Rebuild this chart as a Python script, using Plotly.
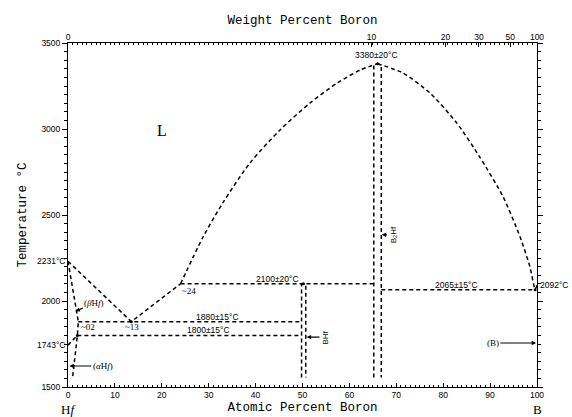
import plotly.graph_objects as go

# ---- data (atomic % B, temperature °C) ----
liq_hf_x = [0, 13.5, 24.0]
liq_hf_t = [2231, 1880, 2100]
liq_mid_x = [24.0, 28.8, 33.0, 38.8, 45.2, 51.6, 57.4, 62.3, 66.0]
liq_mid_t = [2100, 2372, 2570, 2802, 2994, 3151, 3267, 3343, 3380]
liq_b_x = [66.0, 71.4, 77.2, 82.9, 87.8, 92.8, 96.4, 98.5, 99.6, 100.0]
liq_b_t = [3380, 3326, 3209, 3035, 2837, 2605, 2372, 2198, 2068, 2092]

solidus_hf_x = [0, 2.2, 2.0, 1.0]
solidus_hf_t = [2231, 1880, 1800, 1560]
transus_hf_x = [0, 2.0]
transus_hf_t = [1743, 1800]

bhf_x = [49.8, 49.8, 50.2, 50.7, 50.7]
bhf_t = [1555, 2095, 2100, 2090, 1555]
b2hf_x = [65.2, 65.2, 66.0, 66.8, 66.8]
b2hf_t = [1555, 3370, 3380, 3370, 1555]

iso_2100_x = [24.0, 65.2]; iso_2100_t = [2100, 2100]
iso_1880_x = [2.2, 49.8]; iso_1880_t = [1880, 1880]
iso_1800_x = [2.0, 49.8]; iso_1800_t = [1800, 1800]
iso_2065_x = [66.8, 99.6]; iso_2065_t = [2065, 2065]

y_ticks = [1500, 2000, 2500, 3000, 3500]
x_ticks = [0, 10, 20, 30, 40, 50, 60, 70, 80, 90, 100]
wt_ticks = [0, 10, 20, 30, 50, 100]

M_B, M_HF = 10.81, 178.49
def wt_to_at(w):
    if w >= 100:
        return 100.0
    nb = w / M_B
    nh = (100 - w) / M_HF
    return 100 * nb / (nb + nh)

DASH = "4px,3px"
LW = 1.5

fig = go.Figure()

def dline(xs, ts, shape="linear", smoothing=None):
    line = dict(color="black", width=LW, dash=DASH, shape=shape)
    if smoothing is not None:
        line["smoothing"] = smoothing
    fig.add_trace(go.Scatter(x=xs, y=ts, mode="lines", line=line,
                             hoverinfo="skip", showlegend=False))

dline(liq_hf_x, liq_hf_t)
dline(liq_mid_x, liq_mid_t, "spline", 0.8)
dline(liq_b_x, liq_b_t, "spline", 0.6)
dline(solidus_hf_x, solidus_hf_t)
dline(transus_hf_x, transus_hf_t)
dline(bhf_x, bhf_t)
dline(b2hf_x, b2hf_t)
dline(iso_2100_x, iso_2100_t)
dline(iso_1880_x, iso_1880_t)
dline(iso_1800_x, iso_1800_t)
dline(iso_2065_x, iso_2065_t)

# small dots at invariant points
fig.add_trace(go.Scatter(x=[66.0, 13.5, 50.2, 99.6, 2.0], y=[3380, 1880, 2100, 2065, 1800],
                         mode="markers", marker=dict(color="black", size=3),
                         hoverinfo="skip", showlegend=False))

# invisible trace on top axis
fig.add_trace(go.Scatter(x=[0, 100], y=[1500, 1500], xaxis="x2", mode="markers",
                         marker=dict(opacity=0), hoverinfo="skip", showlegend=False))

ann = []
def txt(x, y, s, xa="center", ya="middle", size=8.5, family="Liberation Sans, Arial", angle=0, xs=0, ys=0):
    ann.append(dict(x=x, y=y, xref="x", yref="y", text=s, showarrow=False,
                    xanchor=xa, yanchor=ya, textangle=angle, xshift=xs, yshift=ys,
                    font=dict(family=family, size=size, color="black")))

def label_arrow(tx, ty, hx, hy, s, size=9, family="Liberation Serif", angle=0):
    ann.append(dict(x=hx, y=hy, ax=tx, ay=ty, xref="x", yref="y", axref="x", ayref="y",
                    text=s, showarrow=True, arrowhead=2, arrowsize=0.8, arrowwidth=1.1,
                    arrowcolor="black", textangle=angle,
                    font=dict(family=family, size=size, color="black")))

txt(65.7, 3380, "3380±20°C", ya="bottom", ys=2)
txt(44.6, 2100, "2100±20°C", ya="bottom", ys=-2)
txt(31.8, 1880, "1880±15°C", ya="bottom", ys=-2)
txt(29.9, 1800, "1800±15°C", ya="bottom", ys=-2)
txt(82.9, 2065, "2065±15°C", ya="bottom", ys=-2)
txt(100, 2092, "2092°C", xa="left", xs=1)
txt(0, 2231, "2231°C", xa="right", xs=-1)
txt(0, 1743, "1743°C", xa="right", xs=-1)
txt(13.6, 1849, "~13", family="Liberation Serif", size=9)
txt(25.9, 2060, "~24", family="Liberation Serif", size=9)
txt(4.2, 1849, "~02", family="Liberation Serif", size=9)
txt(20.0, 2994, "L", family="Liberation Serif", size=16)

label_arrow(5.6, 1988, 1.6, 1940, "(<i>β</i>H<i>f</i>)")
label_arrow(7.4, 1622, 0.3, 1622, "(<i>α</i>H<i>f</i>)")
label_arrow(90.6, 1756, 99.8, 1756, "(B)")
label_arrow(54.9, 1790, 50.9, 1790, "BHf", size=8, family="Liberation Sans, Arial", angle=-90)
label_arrow(69.4, 2385, 66.9, 2385, "B<sub>2</sub>Hf", size=8, family="Liberation Sans, Arial", angle=-90)

# end labels
ann.append(dict(x=0, y=0.0, xref="x", yref="paper", yshift=-22, text="H<i>f</i>",
                showarrow=False, font=dict(family="Liberation Serif", size=13, color="black"),
                xanchor="center", yanchor="middle"))
ann.append(dict(x=100, y=0.0, xref="x", yref="paper", yshift=-22, text="B",
                showarrow=False, font=dict(family="Liberation Serif", size=13, color="black"),
                xanchor="center", yanchor="middle"))

TIT = dict(family="Liberation Mono, Courier New", size=12.5, color="black")
TICKF = dict(family="Liberation Sans, Arial", size=8.5, color="black")
NB = "\u00a0"
fig.update_layout(
    width=572, height=417,
    margin=dict(l=68, r=35, t=43, b=30, autoexpand=False),
    paper_bgcolor="white", plot_bgcolor="white",
    showlegend=False,
    annotations=ann,
    xaxis=dict(range=[0, 100], tickvals=x_ticks, ticks="inside", ticklen=4, tickwidth=1,
               tickcolor="black", showgrid=False, zeroline=False, showline=True, linecolor="black",
               linewidth=1, mirror=True, tickfont=TICKF, automargin=False,
               title=dict(text="Atomic Percent Boron" + NB * 2, font=TIT, standoff=3),
               minor=dict(dtick=1, ticks="inside", ticklen=2, tickcolor="black", tickwidth=0.8)),
    xaxis2=dict(range=[0, 100], overlaying="x", side="top", anchor="y",
                tickvals=[wt_to_at(w) for w in wt_ticks], ticktext=[str(w) for w in wt_ticks],
                ticks="inside", ticklen=4, tickwidth=1, tickcolor="black", showgrid=False,
                zeroline=False, showline=False, tickfont=TICKF, automargin=False,
                title=dict(text="Weight Percent Boron" + NB * 4, font=TIT, standoff=4),
                minor=dict(dtick=1, ticks="inside", ticklen=2, tickcolor="black", tickwidth=0.8)),
    yaxis=dict(range=[1500, 3500], tickvals=y_ticks, ticks="outside", ticklen=5, tickwidth=1,
               tickcolor="black", showgrid=False, zeroline=False, showline=True, linecolor="black",
               linewidth=1, mirror="ticks", tickfont=TICKF, automargin=False,
               title=dict(text="Temperature °C", font=TIT, standoff=12),
               minor=dict(dtick=50, ticks="outside", ticklen=3, tickcolor="black", tickwidth=0.8)),
)

fig.write_html("out.html")
